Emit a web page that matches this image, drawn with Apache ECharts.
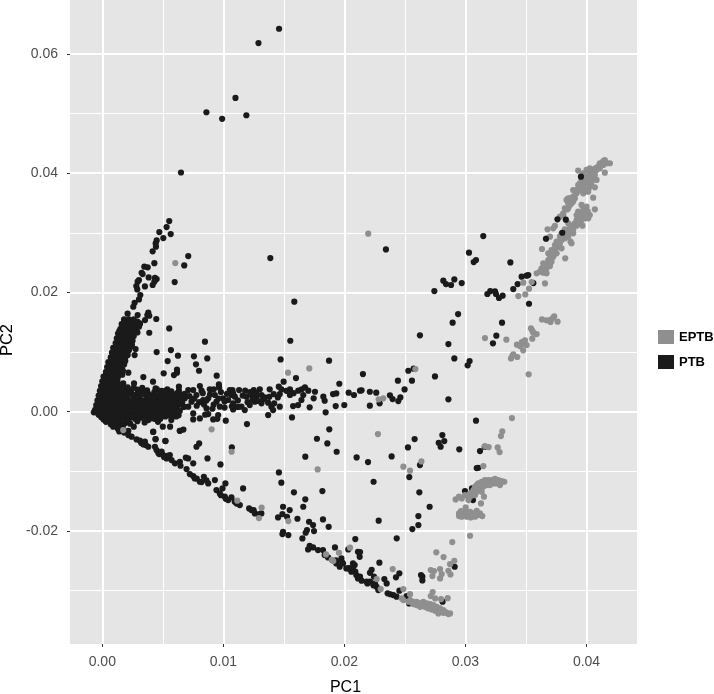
<!DOCTYPE html>
<html><head><meta charset="utf-8">
<script src="https://cdn.jsdelivr.net/npm/echarts@6/dist/echarts.min.js"></script>
<style>html,body{margin:0;padding:0;background:#fff}#c{width:714px;height:694px}</style></head>
<body><div id="c"></div>
<script>
const xTicks=[0,.01,.02,.03,.04];
const yTicks=[-.02,0,.02,.04,.06];
const xMinor=[.005,.015,.025,.035];
const yMinor=[-.03,-.01,.01,.03,.05];
const ptbTop=[[.0146,.0642],[.0129,.0618],[.011,.0526],[.0086,.0502],[.0099,.0491],[.0119,.0497],[.0065,.0401]];
const ptbArm=[[.00553,.03196],[.00531,.03096],[.00471,.03012],[.00565,.02978],[.00504,.02911],[.00449,.02872],[.00441,.02822],[.00443,.02766],[.00416,.02688],[.0071,.0261],[.00677,.02453],[.0043,.0249],[.00347,.02431],[.00375,.0242],[.00325,.0233],[.00333,.02308],[.00383,.02252],[.00435,.02246],[.00449,.02224],[.00303,.02207],[.00292,.0218],[.00598,.02174],[.0043,.0218],[.00416,.02124],[.00281,.02107],[.00289,.0205],[.00352,.02101],[.00314,.01956],[.00303,.01883],[.00267,.01827],[.00256,.0176],[.00209,.01643],[.00292,.0162],[.0038,.0166],[.00372,.0162],[.00388,.01609],[.00446,.01554],[.00353,.01537],[.00311,.0148],[.00303,.01425],[.00388,.01324],[.00553,.01397],[.00848,.01174],[.00567,.01034],[.00449,.01],[.00625,.00939],[.00757,.00928],[.00867,.00894],[.0054,.00849],[.00774,.00794],[.00799,.00687],[.00617,.00704],[.00617,.00654],[.00592,.00615],[.00507,.00643],[.00339,.00581],[.00419,.00503],[.00262,.00475],[.00945,.00604],[.00963,.00458],[.00267,.0095],[.00245,.0112],[.00275,.0105],[.00165,.0062],[.00215,.00654],[.00125,.00533],[.00173,.00475],[.00195,.00397],[.00228,.00335],[.00272,.0028],[.00537,.00375]];
const ptbWedge=[[.0018,.0155],[.0022,.0155],[.0026,.0155],[.0016,.0147],[.002,.0147],[.0024,.0147],[.0027,.0147],[.0031,.0147],[.0015,.0139],[.0019,.0139],[.0023,.0139],[.0027,.0139],[.0013,.0131],[.0017,.0131],[.0021,.0131],[.0025,.0131],[.0012,.0123],[.0016,.0123],[.002,.0123],[.0024,.0123],[.0011,.0115],[.0015,.0115],[.0019,.0115],[.0023,.0115],[.0009,.0107],[.0013,.0107],[.0017,.0107],[.0021,.0107],[.0008,.0099],[.0012,.0099],[.0016,.0099],[.002,.0099],[.0007,.0091],[.0011,.0091],[.0015,.0091],[.0019,.0091],[.0005,.0083],[.0009,.0083],[.0013,.0083],[.0017,.0083],[.0004,.0075],[.0008,.0075],[.0012,.0075],[.0016,.0075],[.0003,.0067],[.0007,.0067],[.0011,.0067],[.0015,.0067],[.0001,.0059],[.0005,.0059],[.0009,.0059],[.0013,.0059],[0,.0051],[.0004,.0051],[.0008,.0051],[.0012,.0051],[-.0001,.0043],[.0003,.0043],[.0007,.0043],[.0011,.0043],[.0015,.0043],[-.0002,.0035],[.0002,.0035],[.0006,.0035],[.001,.0035],[.0014,.0035],[.0018,.0035],[-.0003,.0027],[.0001,.0027],[.0005,.0027],[-.0004,.0019],[0,.0019],[.0004,.0019],[-.0005,.0011],[-.0001,.0011],[.0003,.0011],[-.0006,.0003],[-.0002,.0003],[.0002,.0003],[-.0007,-.0001],[-.0003,-.0005],[.0001,-.0005],[.0001,-.0013],[.0005,-.0013],[.0007,-.0021],[.0011,-.0021],[.0013,-.0029],[.0017,-.0029],[.0009,-.0013]];
const ptbWedgeFill=[[.0018,.0151],[.0022,.0151],[.0026,.0151],[.0029,.0151],[.0017,.0143],[.0021,.0143],[.0025,.0143],[.0029,.0143],[.0014,.0135],[.0018,.0135],[.0022,.0135],[.0026,.0135],[.0029,.0133],[.0015,.0127],[.0019,.0127],[.0023,.0127],[.0026,.0127],[.0013,.0119],[.0017,.0119],[.0021,.0119],[.0025,.0119],[.0012,.0111],[.0016,.0111],[.002,.0111],[.0023,.0108],[.001,.0103],[.0014,.0103],[.0018,.0103],[.0022,.0103],[.0009,.0095],[.0013,.0095],[.0017,.0095],[.0021,.0095],[.0008,.0087],[.0012,.0087],[.0016,.0087],[.0019,.0085],[.0006,.0079],[.001,.0079],[.0014,.0079],[.0018,.0079],[.0005,.0071],[.0009,.0071],[.0013,.0071],[.0017,.0069],[.0003,.0063],[.0007,.0063],[.0011,.0063],[.0002,.0055],[.0006,.0055],[.001,.0055],[.0001,.0047],[.0005,.0047],[.0009,.0047],[.0013,.0047],[0,.0039],[.0004,.0039],[.0008,.0039],[.0012,.0039],[-.0001,.0031],[.0003,.0031],[.0007,.0031],[.0011,.0031],[-.0002,.0023],[.0002,.0023],[.0006,.0023],[-.0003,.0015],[.0001,.0015],[.0005,.0015],[-.0004,.0007],[0,.0007],[.0004,.0007],[-.0005,-.0001],[-.0001,-.0001],[.0003,-.0001],[-.0001,-.0009],[.0003,-.0009],[.0007,-.0009],[.0003,-.0017],[.0007,-.0015],[.0011,-.0015],[.0009,-.0025],[.0013,-.0023],[.0017,-.0023],[.0014,-.0033],[.0018,-.0035]];
const ptbBandCore=[[.0008,.0029],[.0013,.003],[.0019,.0029],[.0024,.0031],[.0029,.003],[.0034,.0033],[.0038,.003],[.0043,.0033],[.0048,.0031],[.0053,.0032],[.0058,.003],[.0008,.0021],[.0012,.0022],[.0017,.002],[.0021,.0022],[.0026,.002],[.0031,.0023],[.0036,.002],[.0041,.0022],[.0045,.002],[.005,.0024],[.0055,.002],[.006,.0024],[.0008,.0013],[.0012,.0013],[.0016,.0014],[.002,.0013],[.0024,.0014],[.0028,.0013],[.0032,.0015],[.0036,.0012],[.004,.0014],[.0044,.0013],[.0048,.0016],[.0053,.0012],[.0058,.0016],[.0063,.0012],[.0006,.0005],[.001,.0005],[.0014,.0006],[.0018,.0005],[.0022,.0006],[.0026,.0005],[.003,.0007],[.0034,.0005],[.0038,.0007],[.0042,.0005],[.0047,.0006],[.0052,.0004],[.0057,.0008],[.0062,.0004],[.0005,-.0003],[.0009,-.0003],[.0013,-.0002],[.0017,-.0003],[.0021,-.0002],[.0025,-.0003],[.0029,-.0002],[.0033,-.0003],[.0037,-.0002],[.0042,-.0003],[.0047,-.0001],[.0054,-.0002],[.006,-.0003],[.0011,-.0011],[.0015,-.001],[.0019,-.0011],[.0023,-.001],[.0027,-.0012],[.0032,-.001],[.0038,-.0014],[.0052,-.0008],[.0057,-.0014],[.0061,-.0008],[.0015,-.0018],[.0019,-.0019],[.0023,-.002],[.0026,-.0025],[.0046,-.0017],[.005,-.0025],[.0056,-.0025],[.0064,-.0032],[.0067,-.003],[.0044,-.0046],[.0052,-.0049],[.0042,-.0034]];
const ptbBandFill=[[.001,.0025],[.0015,.0025],[.0021,.0026],[.0026,.0026],[.0031,.0027],[.0036,.0027],[.0041,.0027],[.0046,.0027],[.0051,.0027],[.0056,.0026],[.0061,.0028],[.001,.0017],[.0015,.0017],[.0019,.0017],[.0024,.0017],[.0028,.0018],[.0033,.0018],[.0038,.0017],[.0043,.0018],[.0048,.002],[.0052,.0017],[.0057,.0019],[.0062,.0018],[.001,.0009],[.0014,.001],[.0018,.0009],[.0022,.001],[.0026,.0009],[.003,.0011],[.0034,.001],[.0038,.0011],[.0042,.0009],[.0046,.0011],[.005,.0009],[.0055,.0011],[.0059,.0006],[.0008,.0001],[.0012,.0001],[.0016,.0002],[.002,.0001],[.0024,.0002],[.0028,.0001],[.0032,.0002],[.0036,.0001],[.004,.0002],[.0045,.0002],[.0049,-.0002],[.0056,.0003],[.0009,-.0007],[.0013,-.0007],[.0017,-.0006],[.0021,-.0007],[.0025,-.0006],[.003,-.0006],[.0034,-.0007],[.0039,-.0006],[.0044,-.0008],[.0057,-.0007],[.0012,-.0015],[.0021,-.0015],[.0029,-.0016],[.0035,-.0018],[.0043,-.0012],[.0023,.0035],[.0029,.0037],[.0037,.0036],[.0045,.0038],[.0026,.004],[.0021,.0041],[.0033,.004],[.0044,.0039],[.0011,.0036],[.0017,.0033],[.0063,-.0006],[.0067,.0008],[.0066,.0028],[.0064,.0021],[.0031,.0032],[.0035,.0031],[.0039,.0026],[.0043,.0025],[.0047,.0024],[.0051,.0021],[.0054,.0028],[.0059,.002],[.0063,.0025],[.0066,.0016],[.0061,.0014],[.0056,.0014],[.0051,.0014],[.0046,.0015],[.0041,.0011],[.0037,.0008],[.0044,.0004],[.0049,.0004],[.0054,.0005],[.0059,.0001],[.0064,.0001],[.0046,-.0005],[.005,-.0005],[.0054,-.0006],[.0041,-.0007],[.0036,-.001],[.004,-.0011],[.0048,-.0012],[.0062,.0031],[.0052,.0035],[.0057,.0034],[.0049,.0035]];
const ptbBandOuter=[[.00633,.00419],[.00633,.00352],[.00682,.00224],[.00655,.00168],[.0071,.00363],[.00751,.00363],[.00806,.0043],[.0082,.00352],[.00778,.0028],[.00737,.00168],[.0071,.00084],[.00674,.00084],[.00751,-.00028],[.00806,-.00112],[.00751,-.00129],[.00875,.00224],[.00833,.00196],[.00861,.00056],[.00875,-.00039],[.00916,-.00129],[.00888,.00375],[.00921,.00375],[.00965,.00408],[.0093,.0028],[.00943,.00168],[.00998,.00224],[.00971,.00084],[.00957,-.00056],[.0102,-.00151],[.01053,.00363],[.01075,.00363],[.01067,.0028],[.0104,.00196],[.01081,.0014],[.01095,.00252],[.0113,.00363],[.0118,.00352],[.01251,.00363],[.01301,.00375],[.01191,.00252],[.01232,.0028],[.01273,.00252],[.01315,.0028],[.01342,.0024],[.0115,.00084],[.01177,.00028],[.01218,.00112],[.0126,.00168],[.01315,.0014],[.0137,.00151],[.01397,.00084],[.01411,.00028],[.01081,.00039],[.0137,-.00056],[.01383,.00375],[.01416,.00296],[.01458,.00419],[.0148,.00375],[.01466,.00296],[.0155,.00375],[.0155,.0028],[.01619,.00352],[.01647,.00375],[.01674,.00408],[.01702,.00352],[.0166,.0028],[.01757,.00335],[.01826,.00252],[.01837,.00184],[.01645,.00196],[.01617,.00112],[.01576,.00095],[.01713,.00073],[.01466,.00084],[.01746,.00224],[.01906,.00296],[.01933,.00307],[.01928,.00095],[.01999,.00112],[.02035,.00319],[.02079,.0028],[.02129,.00352],[.01473,.00877],[.01553,.0119],[.01586,.01844],[.01388,.02576],[.01873,.00855],[.016,.00564],[.01498,.00503],[.01958,.00469],[.01845,-.00011],[.01567,-.00095],[.01195,-.00207]];
const ptbBandOuterFill=[[.0068,.003],[.0072,.0026],[.0076,.0022],[.008,.0016],[.0084,.0012],[.0078,.001],[.0083,.0031],[.0089,.0029],[.0086,.0019],[.0092,.0012],[.0096,.0022],[.0101,.0017],[.0091,.0005],[.0101,.0007],[.0098,.0033],[.0103,.003],[.0108,.0031],[.0112,.0019],[.0116,.0027],[.012,.0016],[.0124,.002],[.0127,.0031],[.0122,.0033],[.0129,.0018],[.0133,.0021],[.0138,.0025],[.0142,.0014],[.0145,.0024],[.0152,.0035],[.0158,.0031],[.0112,.0008],[.0107,.0009],[.0085,-.0005],[.0095,-.0012]];
const ptbRight=[[.02343,.02721],[.03147,.02945],[.03029,.02666],[.03068,.02509],[.03087,.02543],[.03371,.02503],[.03464,.02263],[.03519,.02291],[.03505,.02281],[.03431,.0214],[.03395,.02056],[.03561,.02157],[.02817,.02196],[.02839,.0214],[.02881,.02124],[.02908,.02218],[.02969,.02157],[.02743,.02023],[.03181,.01973],[.03205,.02023],[.03244,.02017],[.03252,.01973],[.03277,.01906],[.03307,.01945],[.03525,.0181],[.02939,.01637],[.02894,.01492],[.03302,.01492],[.02624,.0128],[.02859,.01134],[.03255,.01274],[.03227,.01146],[.02908,.00894],[.03034,.00849],[.03018,.00777],[.02528,.00687],[.02572,.00721],[.02748,.00592],[.02153,.00631],[.02442,.0052],[.02558,.0052],[.02497,.00374],[.02142,.00358],[.0221,.00335],[.02263,.00319],[.02376,.00274],[.02398,.00212],[.02445,.00179],[.02462,.0024],[.02291,.0014],[.0221,.00101],[.02859,.00207]];
const ptbLower=[[.00215,-.00319],[.00215,-.00391],[.00242,-.00419],[.00283,-.00464],[.00311,-.00486],[.00352,-.00503],[.0036,-.00559],[.0038,-.00587],[.00435,-.00587],[.00448,-.00643],[.00462,-.00688],[.00503,-.00727],[.00531,-.00783],[.00558,-.00727],[.00572,-.00811],[.006,-.00866],[.00641,-.00839],[.00646,-.00906],[.0069,-.00771],[.00709,-.00783],[.00696,-.00961],[.00723,-.01045],[.00751,-.01079],[.00764,-.01118],[.00806,-.01174],[.00839,-.0109],[.00875,-.01202],[.0093,-.01146],[.00943,-.01314],[.00971,-.0137],[.00993,-.01286],[.01017,-.01202],[.01012,-.01425],[.0104,-.01481],[.01067,-.01437],[.01094,-.01509],[.01136,-.01565],[.01163,-.01286],[.01213,-.01621],[.01232,-.01649],[.0126,-.01705],[.01314,-.01705],[.00751,-.00866],[.00869,-.00783],[.00976,-.00883],[.00778,-.00587],[.008,-.00531],[.0107,-.00598],[.00641,-.00319],[.00421,-.00335],[.0044,-.00458],[.00523,-.00492],[.01459,-.01017],[.01479,-.0119],[.01583,-.01352],[.01677,-.01469],[.0166,-.01593],[.01677,-.00754],[.01936,-.00671],[.02101,-.00766],[.01859,-.00531],[.01773,-.00453],[.01875,-.00296],[.01493,-.01593],[.01488,-.01716],[.01548,-.01649],[.01526,-.01761],[.01452,-.01772],[.01612,-.01794],[.01493,-.02012],[.01488,-.02052],[.01537,-.02068],[.01708,-.01845],[.01741,-.01901],[.01749,-.02001],[.01691,-.01984],[.0168,-.02029],[.01653,-.02124],[.01823,-.01806],[.0187,-.01929],[.01818,-.0133],[.01713,-.02247],[.017,-.02309],[.01741,-.02275],[.01782,-.0232],[.01823,-.0232],[.01837,-.02404],[.01865,-.02443],[.01922,-.02275],[.01975,-.02459],[.01988,-.02543],[.02016,-.02627],[.02057,-.02683],[.02085,-.02571],[.02098,-.02739],[.02112,-.02795],[.0209,-.02135],[.02032,-.02309],[.02112,-.02348],[.02126,-.02432],[.01933,-.02543],[.01961,-.02599],[.02071,-.02543],[.02035,-.02627],[.02129,-.02766],[.02142,-.02833],[.02184,-.0285],[.02211,-.0285],[.02253,-.02878],[.02266,-.02934],[.0228,-.0299],[.02244,-.02766],[.02357,-.03045],[.02404,-.03073],[.02431,-.03101],[.02454,-.03],[.02514,-.0309],[.02534,-.03213],[.02811,-.03185],[.02129,-.02353],[.02289,-.02531],[.02225,-.0265],[.02211,-.027],[.02454,-.0271],[.02426,-.02777],[.02633,-.02738],[.02644,-.02766],[.02644,-.02828],[.02911,-.02599],[.0233,-.02805],[.02349,-.02878],[.00322,-.00525],[.0034,-.0055],[.0047,-.0071],[.0049,-.0067],[.0051,-.0076],[.0054,-.0074],[.0078,-.0112],[.0082,-.0118],[.0086,-.0115],[.0098,-.014],[.0102,-.0146],[.0111,-.0154],[.0125,-.0165],[.0129,-.0172],[.0193,-.0249],[.0198,-.0252],[.0204,-.0262],[.0207,-.0262],[.0209,-.0268],[.0219,-.0288],[.0224,-.0291],[.0238,-.0306]];
const ptbMid=[[.03087,-.00151],[.02809,-.00391],[.0258,-.00458],[.02525,-.00598],[.02825,-.00492],[.02779,-.0052],[.02795,-.00587],[.02949,-.00631],[.0312,-.00659],[.03159,-.00587],[.0239,-.00749],[.02195,-.00844],[.02624,-.00894],[.02536,-.01095],[.02241,-.01174],[.02619,-.01352],[.02704,-.01593],[.02611,-.01749],[.02611,-.019],[.02561,-.01967],[.02283,-.01827],[.02432,-.02123],[.03106,-.00939],[.02996,-.0133],[.03054,-.01285],[.03054,-.01358],[.03062,-.01481],[.03093,-.00945]];
const eptbStrip=[[.03588,.0232],[.03615,.02348],[.03643,.02331],[.0367,.0232],[.03629,.02404],[.03643,.02488],[.03698,.02443],[.0367,.02404],[.03684,.02543],[.03698,.02627],[.03725,.02599],[.03684,.02655],[.03711,.02711],[.03753,.02767],[.0378,.02823],[.03739,.02795],[.03808,.02907],[.0378,.02851],[.03794,.02739],[.03632,.02728],[.03868,.02851],[.03876,.02823],[.03824,.02571],[.0389,.02991],[.03849,.03047],[.03863,.03075],[.0389,.0313],[.03918,.03214],[.03945,.03298],[.03973,.03382],[.04,.03438],[.03986,.03242],[.04014,.03242],[.04027,.03298],[.04069,.03393],[.03967,.03119],[.03931,.03354],[.03959,.03466],[.03995,.0341],[.03904,.03158],[.03876,.03047],[.03821,.03058],[.03794,.02991],[.0378,.02935],[.03794,.02879],[.0378,.0327],[.03808,.03326],[.03821,.0341],[.03849,.03494],[.03863,.03578],[.0389,.03606],[.03918,.03717],[.03945,.03717],[.03973,.03801],[.03959,.03885],[.04,.03941],[.04027,.04025],[.04055,.04064],[.0411,.04165],[.04151,.0422],[.04193,.04165],[.04165,.04165],[.04138,.04137],[.04083,.04053],[.04055,.03913],[.04083,.03885],[.04027,.03801],[.04069,.03762],[.04014,.03689],[.03973,.03661],[.03918,.03661],[.03863,.03466],[.03849,.0341],[.03835,.0355],[.0389,.03522],[.04055,.03589],[.04151,.04008],[.03931,.04042],[.04138,.04193],[.04027,.03969],[.03986,.03885],[.03945,.03829],[.04,.03829],[.03904,.03578],[.03876,.03494],[.03808,.03298],[.03739,.03114],[.03678,.03058],[.03725,.03075],[.03698,.02935],[.0367,.02907],[.03725,.02711],[.03711,.02599],[.03753,.02851],[.04055,.03997],[.04096,.04109],[.03973,.03717],[.04014,.03885],[.0384,.0339],[.0386,.0352],[.0388,.0358],[.0391,.0366],[.0393,.0372],[.0396,.0376],[.0398,.0382],[.0401,.0391],[.0403,.0396],[.0405,.0402],[.0408,.0409],[.0412,.0414],[.0414,.042],[.0416,.0418],[.0404,.0384],[.0402,.0375],[.0399,.0372],[.0392,.0312],[.0394,.0323],[.0396,.0327],[.0398,.0336],[.0401,.0336],[.0385,.0298],[.0387,.0301],[.0382,.0293],[.0376,.0276],[.0374,.0268],[.0372,.0262],[.0369,.0252],[.0367,.0245],[.0365,.0239],[.03656,.0246],[.03711,.02516],[.03753,.02655],[.03766,.02823],[.03821,.02907],[.03849,.02935],[.0389,.03058],[.03931,.03158],[.03959,.03214],[.04,.03298],[.03918,.03298],[.03849,.03158],[.03849,.03578],[.0389,.03717],[.03931,.03801],[.03959,.03773],[.04,.04053],[.04027,.04081],[.04069,.03969],[.0411,.04081],[.03973,.03997]];
const eptbUpperMid=[[.02197,.02984],[.03657,.02151],[.03478,.02163],[.03547,.02174],[.03525,.02062],[.03494,.01967],[.03437,.01939],[.03161,.01235],[.03338,.01207],[.03522,.00626],[.03425,.01124],[.03466,.01168],[.03491,.01196],[.03505,.01118],[.03477,.01029],[.0345,.01101],[.03486,.01135],[.03428,.00917],[.03395,.00961],[.03376,.00894],[.03387,.00934],[.03552,.01224],[.03588,.01302],[.0356,.01325],[.03541,.01398],[.03552,.01358],[.03632,.01548],[.0367,.01532],[.03703,.01504],[.03719,.01565],[.03733,.01599],[.03761,.01509],[.03698,.01537],[.02586,.00715],[.02283,.00207],[.02321,.00224]];
const eptbCluster=[[.02919,-.0147],[.02947,-.01425],[.02969,-.01453],[.02996,-.01398],[.03024,-.01425],[.03038,-.0137],[.03065,-.01314],[.03079,-.01258],[.03093,-.0123],[.03106,-.01202],[.03134,-.01174],[.03161,-.01146],[.03189,-.01146],[.03216,-.01146],[.03244,-.01124],[.03271,-.01146],[.03299,-.01163],[.03321,-.01174],[.03285,-.0123],[.03257,-.01202],[.0323,-.01202],[.03202,-.0123],[.03175,-.0123],[.03147,-.01258],[.0312,-.01286],[.03093,-.01342],[.03065,-.01398],[.03024,-.01481],[.03153,-.01425],[.03128,-.01537],[.0311,-.0125],[.0308,-.0131],[.0314,-.0122],[.0317,-.0118],[.032,-.0119],[.0323,-.0116],[.0326,-.0117],[.0329,-.012],[.0306,-.0136],[.0304,-.0141],[.03093,-.01286],[.0312,-.0123],[.03148,-.01202],[.03175,-.01191],[.03203,-.01185],[.0323,-.01174],[.03258,-.01163],[.03065,-.0137],[.03038,-.01425],[.03106,-.01314],[.03134,-.01342],[.03079,-.01398],[.02947,-.01705],[.02947,-.0175],[.02983,-.01716],[.03002,-.01604],[.03002,-.01677],[.03024,-.01733],[.03043,-.01772],[.03038,-.01677],[.03065,-.01705],[.03093,-.0166],[.0312,-.01705],[.03139,-.0175],[.02969,-.01761],[.0301,-.01761],[.03079,-.01761],[.03106,-.01733],[.02963,-.01666],[.03384,-.00106],[.03304,-.0033],[.03293,-.00408],[.03266,-.00598],[.03282,-.00676],[.03161,-.00576],[.03192,-.00592],[.03148,-.00911],[.02277,-.00374],[.02487,-.00922],[.02542,-.00989],[.02636,-.00833],[.03038,-.02079]];
const eptbLower=[[.02891,-.02185],[.02759,-.02358],[.02819,-.02436],[.02908,-.02498],[.02873,-.02555],[.02859,-.02666],[.0279,-.02638],[.02876,-.02728],[.02713,-.02655],[.0274,-.02672],[.02727,-.02756],[.02804,-.02722],[.0279,-.02795],[.02399,-.02638],[.02267,-.02806],[.023,-.02974],[.02487,-.02974],[.02542,-.03058],[.02729,-.03024],[.02713,-.03091],[.02749,-.0313],[.02798,-.03142],[.02853,-.03125],[.02474,-.0313],[.02487,-.03158],[.02529,-.03186],[.02556,-.03197],[.0257,-.03186],[.02584,-.03225],[.02597,-.03186],[.02611,-.03242],[.02625,-.0327],[.02639,-.03214],[.02652,-.03186],[.02666,-.0327],[.0268,-.03214],[.02694,-.03298],[.02707,-.03225],[.02721,-.03315],[.02735,-.03242],[.02749,-.03337],[.02762,-.0327],[.02776,-.03382],[.0279,-.03298],[.02804,-.03354],[.02817,-.03326],[.02831,-.03354],[.02859,-.03393],[.02873,-.03382],[.02543,-.03158],[.0257,-.03225],[.02598,-.03242],[.02625,-.03214],[.02653,-.03259],[.0268,-.03281],[.02708,-.03281],[.02735,-.03298],[.02763,-.03315],[.0279,-.03337],[.02818,-.03371],[.02845,-.03371],[.02721,-.03259],[.02749,-.03281],[.0268,-.03245]];
const eptbSparse=[[.00603,.02492],[.01534,.00654],[.0171,.00726],[.00173,-.00307],[.00903,-.00296],[.01068,-.00671],[.01115,-.01492],[.01316,-.01609],[.01294,-.01783],[.01537,-.01833],[.01779,-.00967],[.01848,-.02392],[.01908,-.02503],[.01895,-.02485],[.01955,-.02364],[.02046,-.0228]];
const ptbOver=[[.03954,.0394],[.0376,.03225],[.03829,.0322],[.038,.03],[.03665,.029]];

const FONT='"Liberation Sans", Arial, sans-serif';
const minorX={type:'value',min:-.002668,max:.04417,show:true,position:'bottom',
  axisLine:{show:false,onZero:false},axisLabel:{show:false},axisTick:{show:false,customValues:xMinor},
  splitLine:{show:true,lineStyle:{color:'#fff',width:1}}};
const minorY={type:'value',min:-.03894,max:.06902,show:true,position:'left',
  axisLine:{show:false,onZero:false},axisLabel:{show:false},axisTick:{show:false,customValues:yMinor},
  splitLine:{show:true,lineStyle:{color:'#fff',width:1}}};
const scatter=(name,data,color,z)=>({type:'scatter',name,data,symbolSize:6.2,z:z,
  itemStyle:{color,opacity:1},silent:true,animation:false});
const chart=echarts.init(document.getElementById('c'),null,{renderer:'canvas'});
chart.setOption({
  animation:false,backgroundColor:'#fff',
  grid:{left:70,right:77,top:0,bottom:50,show:true,backgroundColor:'#e5e5e5',borderWidth:0,outerBoundsMode:'none'},
  xAxis:[{type:'value',min:-.002668,max:.04417,name:'PC1',nameLocation:'middle',nameGap:36,nameMoveOverlap:false,
    nameTextStyle:{fontFamily:FONT,fontSize:16,color:'#000',padding:[0,16,0,0]},
    axisLine:{show:false,onZero:false},
    axisTick:{show:true,length:3,lineStyle:{color:'#333',width:1},customValues:xTicks},
    axisLabel:{show:true,margin:11,fontFamily:FONT,fontSize:14,color:'#4d4d4d',customValues:xTicks,formatter:v=>v.toFixed(2)},
    splitLine:{show:true,lineStyle:{color:'#fff',width:2}}},minorX],
  yAxis:[{type:'value',min:-.03894,max:.06902,name:'PC2',nameLocation:'middle',nameGap:54,nameMoveOverlap:false,
    nameTextStyle:{fontFamily:FONT,fontSize:16.5,color:'#000',padding:[0,36,0,0]},
    axisLine:{show:false,onZero:false},
    axisTick:{show:true,length:3,lineStyle:{color:'#333',width:1},customValues:yTicks},
    axisLabel:{show:true,margin:12,fontFamily:FONT,fontSize:14,color:'#4d4d4d',customValues:yTicks,formatter:v=>v.toFixed(2)},
    splitLine:{show:true,lineStyle:{color:'#fff',width:2}}},minorY],
  legend:{orient:'vertical',left:653,top:325,padding:5,itemWidth:16,itemHeight:14,itemGap:11,
    data:[{name:'EPTB',icon:'rect'},{name:'PTB',icon:'rect'}],
    textStyle:{fontFamily:FONT,fontSize:13,fontWeight:'bold',color:'#000',padding:[0,0,0,0]}},
  series:[
    scatter('PTB',[].concat(ptbTop,ptbArm,ptbWedge,ptbWedgeFill,ptbBandCore,ptbBandFill,ptbBandOuter,ptbBandOuterFill,ptbRight,ptbLower,ptbMid),'#1a1a1a',2),
    scatter('EPTB',[].concat(eptbStrip,eptbUpperMid,eptbCluster,eptbLower,eptbSparse),'#8f8f8f',3),
    scatter('PTB',ptbOver,'#1a1a1a',4)
  ]
});
</script></body></html>
